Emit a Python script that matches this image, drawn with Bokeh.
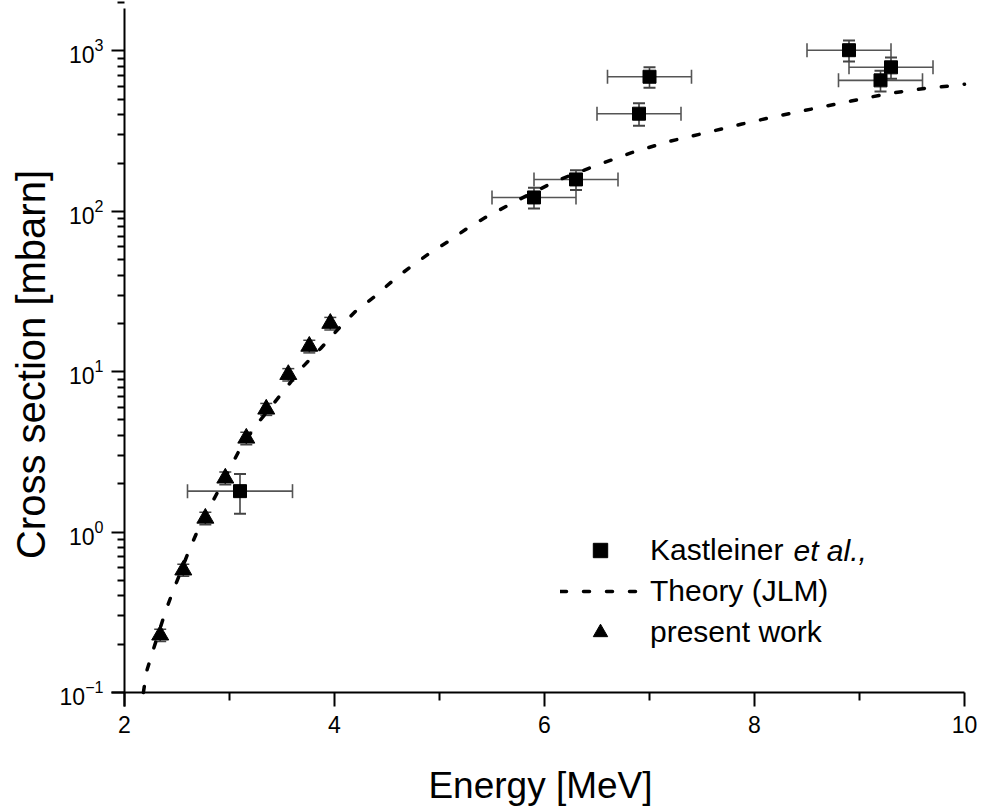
import math
from bokeh.plotting import figure
from bokeh.models import (ColumnDataSource, Whisker, TeeHead, FixedTicker,
                          Legend, LegendItem, Label, Range1d)
from bokeh.embed import file_html
from bokeh.resources import INLINE

# ---------------- data ----------------
kast_e = [3.1, 5.9, 6.3, 6.9, 7.0, 8.9, 9.3, 9.2]
kast_s = [1.8, 122, 158, 406, 690, 1010, 790, 655]
kast_e_err = [0.5, 0.4, 0.4, 0.4, 0.4, 0.4, 0.4, 0.4]
kast_s_err = [0.5, 18, 22, 65, 100, 150, 120, 97]

present_e = [2.34, 2.56, 2.77, 2.96, 3.16, 3.35, 3.56, 3.76, 3.96]
present_s = [0.228, 0.58, 1.22, 2.17, 3.85, 5.84, 9.6, 14.4, 20.0]
present_err = [0.02, 0.05, 0.11, 0.2, 0.35, 0.5, 0.85, 1.3, 1.8]

theory_e = [2.18, 2.21, 2.28, 2.39, 2.46, 2.61, 2.72, 2.915, 3.105, 3.25, 3.535,
            3.69, 3.87, 4.04, 4.20, 4.386, 4.56, 4.73, 4.91, 5.09, 5.26, 5.435,
            5.775, 6.125, 6.474, 6.83, 7.18, 7.53, 7.88, 8.23, 8.575, 8.92,
            9.27, 9.62, 9.97, 10.0]
theory_s = [0.10, 0.135, 0.19, 0.32, 0.425, 0.754, 1.11, 1.92, 3.35, 4.6, 7.86,
            10.6, 14.0, 18.6, 23.8, 29.5, 37.2, 45.4, 55, 65.3, 78, 91.4,
            120, 156, 191, 232, 272, 308, 350, 394, 438, 487,
            541, 584, 615, 620]

x_major = [2, 4, 6, 8, 10]
x_minor = [3, 5, 7, 9]
y_major = [0.1, 1, 10, 100, 1000]
y_minor = [m * 10.0 ** k for k in range(-1, 4) for m in range(2, 10)]

FONT = "Liberation Sans"

# ---------------- geometry (pixels) ----------------
W, H = 981, 807
X0_PX, Y0_PX = 124, 692     # canvas position of (2 MeV, 0.1 mbarn)
TOP_PX = 8                  # top end of the y axis line
PX_PER_MEV = 105.0
PX_PER_DEC = 160.4
X_TICK_OUT = 14
Y_TICK_OUT = 13

x0, y0 = x_major[0], y_major[0]
x_lo = x0 - X0_PX / PX_PER_MEV
x_hi = x0 + (W - X0_PX) / PX_PER_MEV
y_lo = y0 * 10 ** (-(H - Y0_PX) / PX_PER_DEC)
y_hi = y0 * 10 ** (Y0_PX / PX_PER_DEC)

p = figure(width=W, height=H, y_axis_type="log",
           x_range=Range1d(x_lo, x_hi), y_range=Range1d(y_lo, y_hi),
           output_backend="svg", toolbar_location=None,
           min_border_left=0, min_border_right=0,
           min_border_top=0, min_border_bottom=0)
p.outline_line_color = None
p.grid.visible = False
p.background_fill_color = "white"
p.border_fill_color = "white"

# axes placed at the data origin (inside the frame so nothing is clipped)
p.xaxis.ticker = FixedTicker(ticks=x_major, minor_ticks=x_minor)
p.yaxis.ticker = FixedTicker(ticks=y_major, minor_ticks=y_minor)
p.xaxis.fixed_location = y0
p.yaxis.fixed_location = x0
p.xaxis.bounds = (x0 - Y_TICK_OUT / PX_PER_MEV, x_major[-1])
p.yaxis.bounds = (y0 * 10 ** (-X_TICK_OUT / PX_PER_DEC),
                  y0 * 10 ** ((Y0_PX - TOP_PX) / PX_PER_DEC))
for ax in (p.xaxis[0], p.yaxis[0]):
    ax.axis_line_width = 2
    ax.axis_line_color = "black"
    ax.major_tick_line_width = 2
    ax.minor_tick_line_width = 2
    ax.major_tick_line_color = "black"
    ax.minor_tick_line_color = "black"
    ax.major_tick_in = 0
    ax.minor_tick_in = 0
    ax.major_label_text_font = FONT
    ax.major_label_text_font_size = "23px"
    ax.major_label_text_color = "black"

p.xaxis.major_tick_out = X_TICK_OUT
p.xaxis.minor_tick_out = 8
p.yaxis.major_tick_out = Y_TICK_OUT
p.yaxis.minor_tick_out = 7
p.xaxis.major_label_standoff = 9
p.yaxis.major_label_standoff = 8

# axis titles (screen units, relative to the frame's bottom-left)
p.add_layout(Label(x=540, y=22, x_units="screen", y_units="screen",
                   text="Energy [MeV]", text_font=FONT, text_font_size="37px",
                   text_align="center", text_baseline="alphabetic",
                   text_color="black"))
p.add_layout(Label(x=30, y=443, x_units="screen", y_units="screen",
                   text="Cross section [mbarn]", text_font=FONT, text_font_size="40px",
                   text_align="center", text_baseline="alphabetic",
                   angle=math.pi / 2, text_color="black"))

# theory curve
theory = p.line(theory_e, theory_s, line_color="black", line_width=3.5,
                line_dash="6 17", line_cap="round")

ksrc = ColumnDataSource(dict(
    x=kast_e, y=kast_s,
    xl=[e - d for e, d in zip(kast_e, kast_e_err)],
    xu=[e + d for e, d in zip(kast_e, kast_e_err)],
    yl=[s - d for s, d in zip(kast_s, kast_s_err)],
    yu=[s + d for s, d in zip(kast_s, kast_s_err)],
))
p.add_layout(Whisker(source=ksrc, base="y", lower="xl", upper="xu", dimension="width",
                     line_color="#555555", line_width=1.6,
                     lower_head=TeeHead(size=14, line_color="#555555", line_width=1.6),
                     upper_head=TeeHead(size=14, line_color="#555555", line_width=1.6)))
p.add_layout(Whisker(source=ksrc, base="x", lower="yl", upper="yu", dimension="height",
                     line_color="#444444", line_width=1.6,
                     lower_head=TeeHead(size=12, line_color="#444444", line_width=2),
                     upper_head=TeeHead(size=12, line_color="#444444", line_width=2)))

psrc = ColumnDataSource(dict(
    x=present_e, y=present_s,
    yl=[s - d for s, d in zip(present_s, present_err)],
    yu=[s + d for s, d in zip(present_s, present_err)],
))
p.add_layout(Whisker(source=psrc, base="x", lower="yl", upper="yu", dimension="height",
                     line_color="#444444", line_width=1.5,
                     lower_head=TeeHead(size=12, line_color="#444444", line_width=1.5),
                     upper_head=TeeHead(size=12, line_color="#444444", line_width=1.5)))

kast = p.scatter("x", "y", source=ksrc, marker="square", size=13,
                 fill_color="black", line_color="black")
pres = p.scatter("x", "y", source=psrc, marker="triangle", size=17,
                 fill_color="black", line_color="black")

legend = Legend(items=[
    LegendItem(label="Kastleiner", renderers=[kast]),
    LegendItem(label="Theory (JLM)", renderers=[theory]),
    LegendItem(label="present work", renderers=[pres]),
], location=(560, 157), orientation="vertical",
    glyph_width=80, glyph_height=36, label_height=36, spacing=5,
    label_standoff=10, padding=0, margin=0,
    border_line_color=None, background_fill_alpha=0,
    label_text_font=FONT, label_text_font_size="30px", label_text_color="black")
p.add_layout(legend, "center")

p.add_layout(Label(x=793, y=257, x_units="screen", y_units="screen",
                   text="et al.,", text_font=FONT, text_font_size="30px",
                   text_font_style="italic", text_baseline="middle",
                   text_color="black"))

open("out.html", "w").write(file_html(p, INLINE))
